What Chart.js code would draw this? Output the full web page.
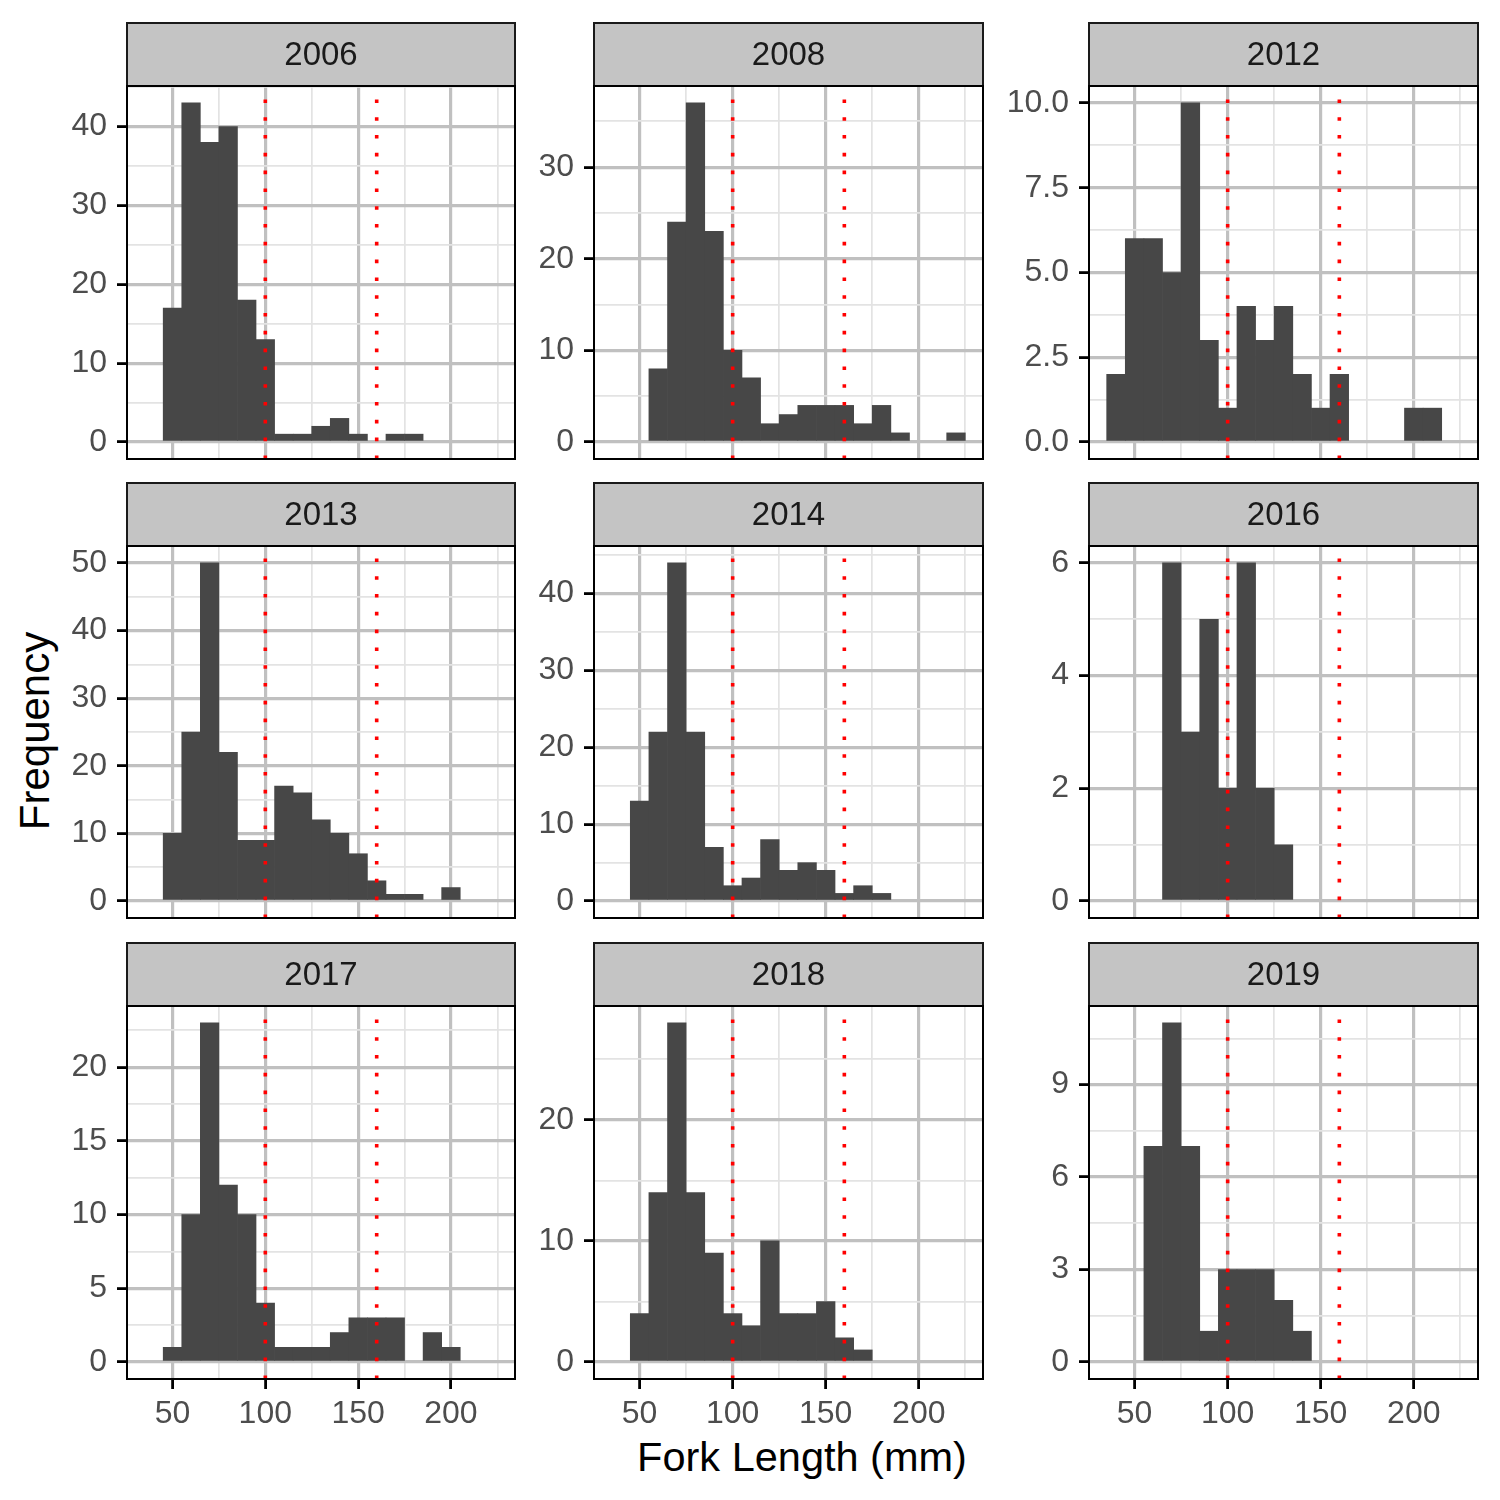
<!DOCTYPE html>
<html>
<head>
<meta charset="utf-8">
<script src="https://cdn.jsdelivr.net/npm/chart.js@4.4.1/dist/chart.umd.min.js"></script>
<style>
body { margin: 0; background: #fff; }
#wrap { position: relative; width: 1500px; height: 1500px; overflow: hidden;
        font-family: 'Liberation Sans', Arial, sans-serif; }
canvas { position: absolute; }
.axt { position: absolute; color: #000; line-height: 1; white-space: nowrap; }
#xt { left: 802px; top: 1457px; font-size: 41.5px; transform: translate(-50%, -50%); }
#yt { left: 35px; top: 731px; font-size: 42px; transform: translate(-50%, -50%) rotate(-90deg); }
</style>
</head>
<body>
<div id="wrap">
<div class="axt" id="xt">Fork Length (mm)</div>
<div class="axt" id="yt">Frequency</div>
</div>
<script>
// one histogram per year, bins 10 mm wide
const years = ['2006', '2008', '2012', '2013', '2014', '2016', '2017', '2018', '2019'];
const binWidth = 10;
const firstBin = [50, 60, 40, 50, 50, 70, 50, 50, 60];

const counts2006 = [17, 43, 38, 40, 18, 13, 1, 1, 2, 3, 1, 0, 1, 1];
const counts2008 = [8, 24, 37, 23, 10, 7, 2, 3, 4, 4, 4, 2, 4, 1, 0, 0, 1];
const counts2012 = [2, 6, 6, 5, 10, 3, 1, 4, 3, 4, 2, 1, 2, 0, 0, 0, 1, 1];
const counts2013 = [10, 25, 50, 22, 9, 9, 17, 16, 12, 10, 7, 3, 1, 1, 0, 2];
const counts2014 = [13, 22, 44, 22, 7, 2, 3, 8, 4, 5, 4, 1, 2, 1];
const counts2016 = [6, 3, 5, 2, 6, 2, 1];
const counts2017 = [1, 10, 23, 12, 10, 4, 1, 1, 1, 2, 3, 3, 3, 0, 2, 1];
const counts2018 = [4, 14, 28, 14, 9, 4, 3, 10, 4, 4, 5, 2, 1];
const counts2019 = [7, 11, 7, 1, 3, 3, 3, 2, 1];
const allCounts = [counts2006, counts2008, counts2012, counts2013, counts2014,
                   counts2016, counts2017, counts2018, counts2019];

const yTicks2006 = ['0', '10', '20', '30', '40'];
const yTicks2008 = ['0', '10', '20', '30'];
const yTicks2012 = ['0.0', '2.5', '5.0', '7.5', '10.0'];
const yTicks2013 = ['0', '10', '20', '30', '40', '50'];
const yTicks2014 = ['0', '10', '20', '30', '40'];
const yTicks2016 = ['0', '2', '4', '6'];
const yTicks2017 = ['0', '5', '10', '15', '20'];
const yTicks2018 = ['0', '10', '20'];
const yTicks2019 = ['0', '3', '6', '9'];
const allTicks = [yTicks2006, yTicks2008, yTicks2012, yTicks2013, yTicks2014,
                  yTicks2016, yTicks2017, yTicks2018, yTicks2019];

const cutoffs = [100, 160];
const xMajor = [50, 100, 150, 200];
const xMinor = [75, 125, 175, 225];
const xMin = 25.5;
const xMax = 234.5;

// panel boxes on the page
const cols = [[127, 515], [594, 983], [1089, 1478]];
const rows = [[22, 86, 459], [482, 546, 918], [942, 1006, 1379]];
const LEFT = 110;

Chart.defaults.font.family = "'Liberation Sans', Arial, sans-serif";

const wrap = document.getElementById('wrap');

function near(list, v)
{
    return list.findIndex((m) => Math.abs(m - v) < 1e-6);
}

const panelPlugin = {
    id: 'panel',
    beforeDraw(chart)
    {
        const {ctx, chartArea: a} = chart;
        const tb = chart.titleBlock;
        ctx.save();
        ctx.fillStyle = '#c4c4c4';
        ctx.fillRect(a.left, tb.top, a.right - a.left, a.top - tb.top);
        ctx.restore();
    },
    afterDraw(chart)
    {
        const {ctx, chartArea: a} = chart;
        const tb = chart.titleBlock;
        ctx.save();
        ctx.lineWidth = 2;
        ctx.strokeStyle = '#1a1a1a';
        ctx.strokeRect(a.left, tb.top + 1, a.right - a.left, a.top - tb.top - 1);
        ctx.strokeStyle = '#000';
        ctx.strokeRect(a.left, a.top, a.right - a.left, a.bottom - a.top);
        ctx.restore();
    }
};

function makePanel(k)
{
    const c = k % 3;
    const r = Math.floor(k / 3);
    const [pl, pr] = cols[c];
    const [st, pt, pb] = rows[r];
    const bottomRow = r === 2;
    const xAxisH = bottomRow ? 80 : 0;
    const padB = bottomRow ? 0 : 4;

    const w = LEFT + (pr - pl) + 4;
    const h = (pb - st) + 2 + xAxisH + padB;
    const canvas = document.createElement('canvas');
    canvas.width = w;
    canvas.height = h;
    canvas.style.width = w + 'px';
    canvas.style.height = h + 'px';
    canvas.style.left = (pl - LEFT) + 'px';
    canvas.style.top = (st - 2) + 'px';
    wrap.appendChild(canvas);

    const counts = allCounts[k];
    const labels = allTicks[k];
    const majors = labels.map(Number);
    const top = Math.max(...counts);
    const yMin = -0.05 * top;
    const yMax = 1.05 * top;
    const step = majors[1] - majors[0];
    const minors = [];
    for (let v = majors[0] - step / 2; v <= yMax; v += step)
    {
        if (v >= yMin) minors.push(v);
    }

    const yMajor = (ctx) => ctx.tick && near(majors, ctx.tick.value) >= 0;
    const xIsMajor = (ctx) => ctx.tick && near(xMajor, ctx.tick.value) >= 0;

    const bars = counts.map((n, i) => ({x: firstBin[k] + i * binWidth, y: n}));

    const datasets = [{
        type: 'bar',
        data: bars,
        // empty bins stay invisible
        backgroundColor: (ctx) => ctx.raw && ctx.raw.y > 0 ? '#474747' : 'rgba(0,0,0,0)',
        borderWidth: 0,
        barPercentage: 1,
        categoryPercentage: 1,
        order: 2
    }];
    cutoffs.forEach((v) => datasets.push({
        type: 'line',
        data: [{x: v, y: yMin}, {x: v, y: yMax}],
        borderColor: '#ff0000',
        borderWidth: 3.6,
        borderDash: [3.6, 14.2],
        borderCapStyle: 'butt',
        pointRadius: 0,
        fill: false,
        tension: 0,
        order: 1
    }));

    return new Chart(canvas, {
        type: 'bar',
        data: {datasets: datasets},
        plugins: [panelPlugin],
        options: {
            responsive: false,
            animation: false,
            layout: {padding: {left: 0, right: 4, top: 2, bottom: padB}},
            plugins: {
                legend: {display: false},
                tooltip: {enabled: false},
                title: {
                    display: true,
                    text: years[k],
                    fullSize: false,
                    color: '#1a1a1a',
                    font: {size: 33, weight: 'normal', lineHeight: 1.2},
                    padding: {top: 14, bottom: 10.4}
                }
            },
            scales: {
                x: {
                    type: 'linear',
                    min: xMin,
                    max: xMax,
                    offset: false,
                    afterBuildTicks: (s) => {
                        s.ticks = xMajor.concat(xMinor).sort((a, b) => a - b).map((v) => ({value: v}));
                    },
                    afterFit: (s) => {
                        s.height = xAxisH;
                        s.paddingLeft = 0;
                        s.paddingRight = 0;
                    },
                    border: {display: false},
                    grid: {
                        offset: false,
                        color: (ctx) => xIsMajor(ctx) ? '#c0c0c0' : '#e3e3e3',
                        lineWidth: (ctx) => xIsMajor(ctx) ? 3.2 : 1.7,
                        drawTicks: bottomRow,
                        tickLength: 10,
                        tickWidth: 2.8,
                        tickColor: (ctx) => xIsMajor(ctx) ? '#000' : 'rgba(0,0,0,0)'
                    },
                    ticks: {
                        display: bottomRow,
                        autoSkip: false,
                        maxRotation: 0,
                        padding: 6,
                        color: '#4d4d4d',
                        font: {size: 32},
                        callback: (v) => near(xMajor, v) >= 0 ? String(v) : ''
                    }
                },
                y: {
                    type: 'linear',
                    min: yMin,
                    max: yMax,
                    afterBuildTicks: (s) => {
                        s.ticks = majors.concat(minors).sort((a, b) => a - b).map((v) => ({value: v}));
                    },
                    afterFit: (s) => {
                        s.width = LEFT;
                        s.paddingTop = 0;
                        s.paddingBottom = 0;
                    },
                    border: {display: false},
                    grid: {
                        color: (ctx) => yMajor(ctx) ? '#c0c0c0' : '#e3e3e3',
                        lineWidth: (ctx) => yMajor(ctx) ? 3.2 : 1.7,
                        tickLength: 10,
                        tickWidth: 2.8,
                        tickColor: (ctx) => yMajor(ctx) ? '#000' : 'rgba(0,0,0,0)'
                    },
                    ticks: {
                        autoSkip: false,
                        padding: 10,
                        color: '#4d4d4d',
                        font: {size: 32},
                        callback: (v) => {
                            const i = near(majors, v);
                            return i >= 0 ? labels[i] : '';
                        }
                    }
                }
            }
        }
    });
}

for (let k = 0; k < years.length; k++)
{
    makePanel(k);
}
</script>
</body>
</html>
